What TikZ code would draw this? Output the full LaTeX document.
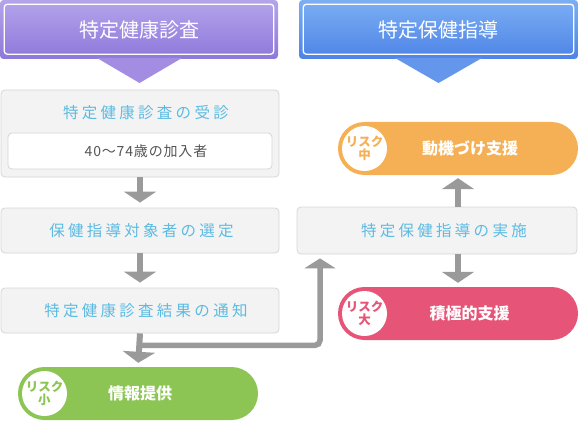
\documentclass[tikz,border=0pt]{standalone}
\usepackage{fontspec}
\setmainfont{Noto Sans CJK JP}
\newfontfamily\jpsp[LetterSpace=21]{Noto Sans CJK JP}
\newfontfamily\jpsub[LetterSpace=6]{Noto Sans CJK JP}
\usetikzlibrary{arrows.meta,calc}
\definecolor{purtop}{HTML}{B4A4EC}
\definecolor{purbot}{HTML}{8E78DA}
\definecolor{purtri}{HTML}{A38DE2}
\definecolor{blutop}{HTML}{7CAEF4}
\definecolor{blubot}{HTML}{4D84E6}
\definecolor{blutri}{HTML}{6497EC}
\definecolor{boxfill}{HTML}{F3F3F3}
\definecolor{boxline}{HTML}{D6D6D6}
\definecolor{titlecol}{HTML}{5CBBE2}
\definecolor{arrcol}{HTML}{9A9A9A}
\definecolor{orangecol}{HTML}{F5B055}
\definecolor{redcol}{HTML}{E65478}
\definecolor{greencol}{HTML}{8CC554}
\definecolor{darktext}{HTML}{555555}
\begin{document}
\begin{tikzpicture}[x=1pt,y=-1pt,
  header/.style={rounded corners=3.5pt, minimum height=59pt, inner sep=0pt},
  headtext/.style={text=white, font=\fontsize{20}{23}\selectfont, inner sep=0pt},
  graybox/.style={draw=boxline, fill=boxfill, line width=0.8pt, rounded corners=4pt,
    minimum width=278pt, inner sep=0pt},
  boxtitle/.style={text=titlecol, font=\jpsp\fontsize{15.5}{18}\selectfont, inner sep=0pt},
  pill/.style={rounded corners=26.5pt, minimum width=240pt, minimum height=53pt, inner sep=0pt},
  riskdisk/.style={circle, fill=white, minimum size=45pt, inner sep=0pt, align=center,
    font=\bfseries\fontsize{12.5}{13.5}\selectfont},
  pilltext/.style={text=white, font=\bfseries\fontsize{16}{19}\selectfont, inner sep=0pt},
  arr/.style={draw=arrcol, line width=6pt, -{Triangle[width=32pt,length=11pt]}},
]
\useasboundingbox (0,0) rectangle (578,425);

% headers
\node[header, minimum width=278pt, top color=purtop, bottom color=purbot] (h1) at (139,29.5) {};
\fill[purtri] (97,58) -- (182,58) -- (139.5,83) -- cycle;
\draw[white, line width=1.3pt, rounded corners=3pt] ($(h1.north west)+(4.5,4.5)$) rectangle ($(h1.south east)+(-4.5,-5)$);
\node[headtext] at (h1.center) {特定健康診査};

\node[header, minimum width=279pt, top color=blutop, bottom color=blubot] (h2) at (438.5,29.5) {};
\fill[blutri] (395,58) -- (482,58) -- (438.5,83) -- cycle;
\draw[white, line width=1.3pt, rounded corners=3pt] ($(h2.north west)+(4.5,4.5)$) rectangle ($(h2.south east)+(-4.5,-5)$);
\node[headtext] at (h2.center) {特定保健指導};

% left column
\node[graybox, minimum height=87pt] (b1) at (140,133.5) {};
\node[boxtitle] (t1) at (146,113) {特定健康診査の受診};
\node[draw=boxline, fill=white, line width=0.8pt, rounded corners=4pt, minimum width=264pt,
  minimum height=36pt, inner sep=0pt] (sub) at (140,151) {};
\node[text=darktext, font=\jpsub\fontsize{14}{16}\selectfont, inner sep=0pt] at (146,151) {40～74歳の加入者};

\node[graybox, minimum height=45pt] (b2) at (140,230.5) {};
\node[boxtitle] at ($(b2.center)+(1.5,0)$) {保健指導対象者の選定};

\node[graybox, minimum height=45pt] (b3) at (140,310.5) {};
\node[boxtitle] at ($(b3.center)+(6,0)$) {特定健康診査結果の通知};

% right column
\node[graybox, minimum width=280pt, minimum height=47pt] (b4) at (437,230.5) {};
\node[boxtitle] at ($(b4.center)+(7,0)$) {特定保健指導の実施};

% pills
\node[pill, fill=orangecol] (orange) at (458,148.5) {};
\node[riskdisk, text=orangecol] (ro) at (364.5,148.5) {リスク\\[-1pt]中};
\node[pilltext] at (470,148.5) {動機づけ支援};

\node[pill, fill=redcol] (red) at (458,313.5) {};
\node[riskdisk, text=redcol] (rr) at (364.5,313.5) {リスク\\[-1pt]大};
\node[pilltext] at (469.5,313.5) {積極的支援};

\node[pill, fill=greencol] (green) at (138,393.5) {};
\node[riskdisk, text=greencol] (rg) at (44.5,393.5) {リスク\\[-1pt]小};
\node[pilltext] at (140,393.5) {情報提供};

% arrows
\draw[arr, shorten >=5pt] (b1.south) -- (b2.north);
\draw[arr, shorten >=5pt] (b2.south) -- (b3.north);
\draw[arr, shorten >=4pt] (b3.south) -- (green.north);
\coordinate (br) at ($(b3.south)+(0,12)$);
\draw[draw=arrcol, line width=5.5pt, rounded corners=5pt, -{Triangle[width=31pt,length=10pt]}, shorten >=4pt]
  (br) -| (b4.south -| 320,0);
\draw[arr, shorten >=3pt] (b4.north -| orange.south) -- (orange.south);
\draw[arr, shorten >=4pt] (b4.south -| red.north) -- (red.north);
\end{tikzpicture}
\end{document}
